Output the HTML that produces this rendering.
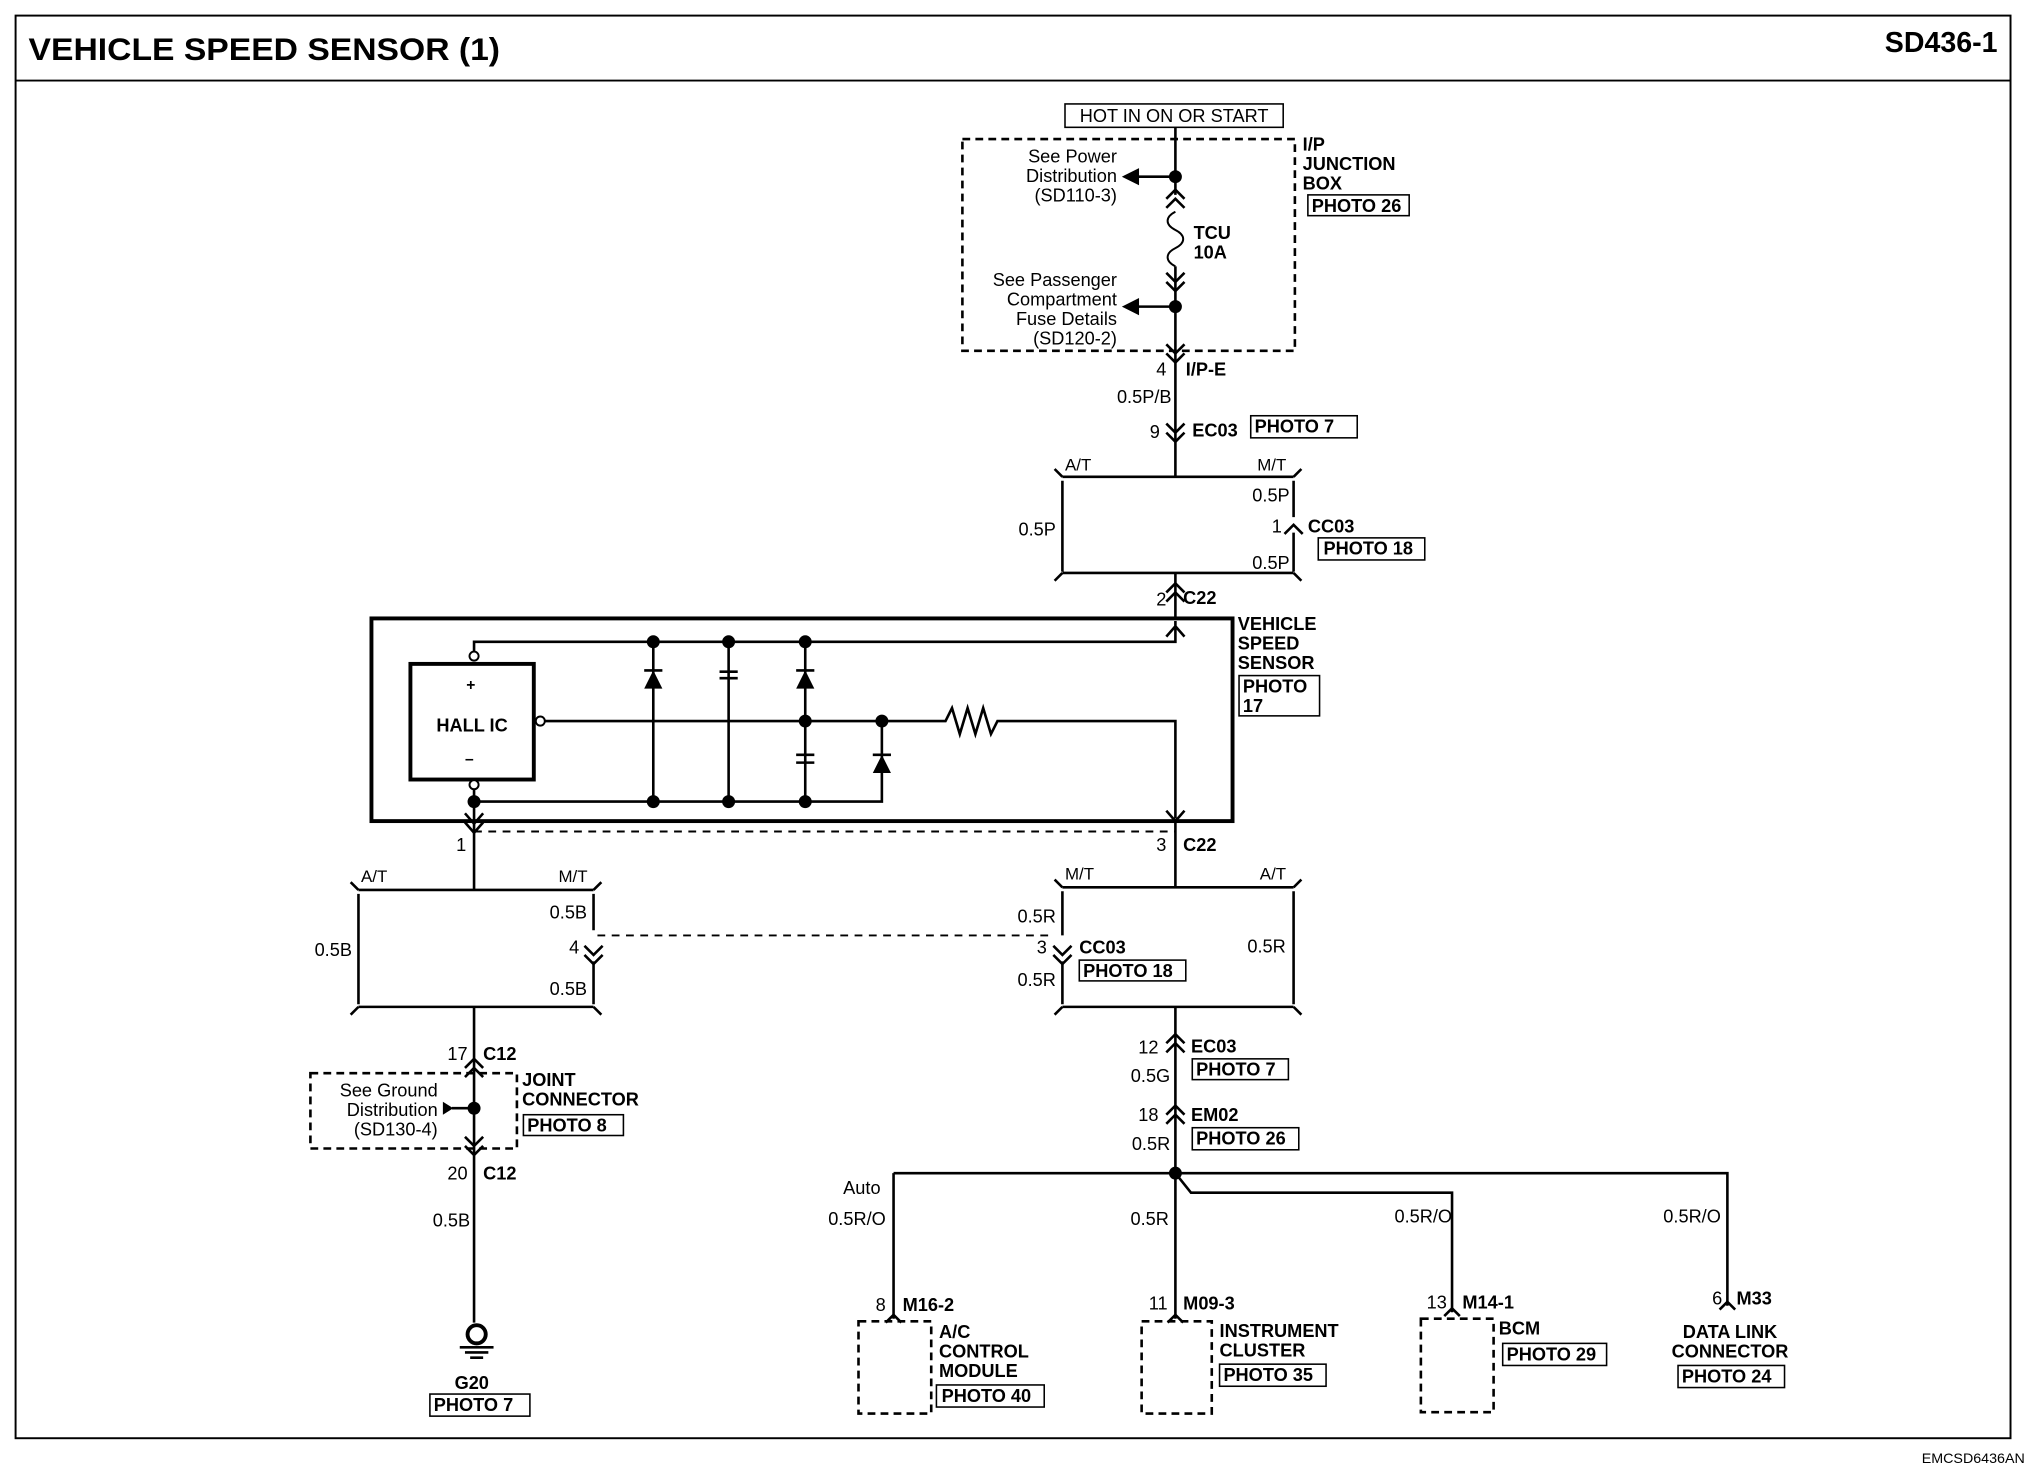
<!DOCTYPE html>
<html><head><meta charset="utf-8"><style>
html,body{margin:0;padding:0;background:#fff}
svg{display:block}
text{font-family:"Liberation Sans",Arial,sans-serif;fill:#000}
.b{font-weight:bold}
</style></head><body>
<svg width="2030" height="1472" viewBox="0 0 1563 1133" preserveAspectRatio="none" xmlns="http://www.w3.org/2000/svg">
<g fill="none" stroke="#000" stroke-width="2">
<rect x="12" y="12" width="1536" height="1095" stroke-width="1.5"/>
<line x1="12" y1="62" x2="1548" y2="62" stroke-width="1.5"/>
<rect x="820" y="80" width="168" height="18" stroke-width="1.2"/>
<rect x="741" y="107" width="256" height="163" stroke-dasharray="6,4"/>
<path d="M905 98V150M905 205V367"/>
<path d="M898 160l7-7 7 7M898 153l7-7 7 7"/>
<path d="M905 163c-8 4-8 10 0 14c8 4 8 10 0 14c-8 4-8 10 0 14" stroke-width="1.5"/>
<path d="M898 210l7 7 7-7M898 217l7 7 7-7"/>
<path d="M898 265l7 7 7-7M898 272l7 7 7-7"/>
<path d="M898 326l7 7 7-7M898 333l7 7 7-7"/>
<path d="M905 136H873M905 236H873"/>
<path d="M866 136l10-5v10z M866 236l10-5v10z" fill="#000"/>
<path d="M818 367H996M818 370V440M996 370V398M996 410V440M818 441H996M905 441V476"/>
<path d="M812 361l6 6M1002 361l-6 6M812 447l6-6M1002 447l-6-6"/>
<path d="M989 411l7-7 7 7"/>
<path d="M898 456l7-7 7 7M898 463l7-7 7 7"/>
<rect x="286" y="476" width="663" height="156" stroke-width="3"/>
<rect x="316" y="511" width="95" height="89" stroke-width="3"/>
<path d="M365 504V494H905V478M898 490l7-8 7 8"/>
<path d="M416 555H728l5-10 6 20 6-20 6 20 6-20 6 20 5-10H905V630M898 624l7 8 7-8"/>
<path d="M365 605V632M358 626l7 8 7-8M358 633l7 8 7-8"/>
<path d="M365 617H679V555M503 494V617M561 494V617M620 494V617"/>
<path d="M554 517h14M554 522h14M613 581h14M613 587h14"/>
<line x1="365" y1="640" x2="905" y2="640" stroke-dasharray="6,5" stroke-width="1.5"/>
<path d="M365 632V685M276 685H457M276 688V773M457 688V716M457 740V773M276 775H457M365 775V1018"/>
<path d="M270 679l6 6M463 679l-6 6M270 781l6-6M463 781l-6-6"/>
<path d="M450 728l7 7 7-7M450 735l7 7 7-7"/>
<path d="M358 829l7-7 7 7M358 822l7-7 7 7M358 875l7 7 7-7M358 882l7 7 7-7"/>
<rect x="239" y="826" width="159" height="58" stroke-dasharray="6,4"/>
<path d="M365 853H348"/>
<line x1="460" y1="720" x2="810" y2="720" stroke-dasharray="6,5" stroke-width="1.5"/>
<circle cx="367" cy="1027" r="7" stroke-width="3"/>
<path d="M354 1037h26M358 1041h18M362 1045h10"/>
<path d="M905 632V683M818 683H996M818 686V720M818 740V773M996 686V773M818 775H996M905 775V903"/>
<path d="M812 677l6 6M1002 677l-6 6M812 781l6-6M1002 781l-6-6"/>
<path d="M811 728l7 7 7-7M811 735l7 7 7-7"/>
<path d="M898 810l7-7 7 7M898 803l7-7 7 7M898 865l7-7 7 7M898 858l7-7 7 7"/>
<path d="M688 903H1330V1005M688 903V1015M905 903V1015M905 903l12 15H1118V1010"/>
<path d="M682 1018l6-6 6 6M899 1018l6-6 6 6M1112 1013l6-6 6 6M1324 1008l6-6 6 6"/>
<rect x="661" y="1017" width="56" height="71" stroke-dasharray="6,4"/>
<rect x="879" y="1017" width="54" height="71" stroke-dasharray="6,4"/>
<rect x="1094" y="1015" width="56" height="72" stroke-dasharray="6,4"/>
<g stroke-width="1.2">
<rect x="1007" y="150" width="78" height="16"/>
<rect x="963" y="320" width="82" height="17"/>
<rect x="1015" y="414" width="82" height="17"/>
<rect x="954" y="520" width="62" height="31"/>
<rect x="403" y="858" width="77" height="16"/>
<rect x="831" y="739" width="82" height="16"/>
<rect x="918" y="815" width="74" height="16"/>
<rect x="918" y="868" width="82" height="17"/>
<rect x="331" y="1073" width="77" height="17"/>
<rect x="721" y="1066" width="83" height="17"/>
<rect x="939" y="1050" width="82" height="17"/>
<rect x="1157" y="1034" width="80" height="17"/>
<rect x="1292" y="1051" width="82" height="17"/>
</g>
</g>
<g fill="#000">
<circle cx="905" cy="136" r="5"/><circle cx="905" cy="236" r="5"/>
<circle cx="503" cy="494" r="5"/><circle cx="561" cy="494" r="5"/><circle cx="620" cy="494" r="5"/>
<circle cx="620" cy="555" r="5"/><circle cx="679" cy="555" r="5"/>
<circle cx="365" cy="617" r="5"/><circle cx="503" cy="617" r="5"/><circle cx="561" cy="617" r="5"/><circle cx="620" cy="617" r="5"/>
<circle cx="365" cy="853" r="5"/><circle cx="905" cy="903" r="5"/>
<path d="M496 530h14l-7-14z M613 530h14l-7-14z M672 595h14l-7-14z M341 848l8 5-8 5z"/>
<path d="M496 516h14M613 516h14M672 581h14" stroke="#000" stroke-width="2"/>
</g>
<g fill="#fff" stroke="#000" stroke-width="1.5">
<circle cx="365" cy="505" r="3.5"/><circle cx="365" cy="604" r="3.5"/><circle cx="416" cy="555" r="3.5"/>
</g>
<g font-size="14">
<text x="22" y="46" font-size="24" class="b" textLength="363" lengthAdjust="spacingAndGlyphs">VEHICLE SPEED SENSOR (1)</text>
<text x="1538" y="40" font-size="22" class="b" text-anchor="end">SD436-1</text>
<text x="1559" y="1126" font-size="11" text-anchor="end">EMCSD6436AN</text>
<text x="904" y="94" text-anchor="middle">HOT IN ON OR START</text>
<g text-anchor="end"><text x="860" y="125">See Power</text><text x="860" y="140">Distribution</text><text x="860" y="155">(SD110-3)</text>
<text x="860" y="220">See Passenger</text><text x="860" y="235">Compartment</text><text x="860" y="250">Fuse Details</text><text x="860" y="265">(SD120-2)</text>
<text x="898" y="289">4</text><text x="902" y="310">0.5P/B</text><text x="893" y="337">9</text>
<text x="993" y="386">0.5P</text><text x="813" y="412">0.5P</text><text x="987" y="410">1</text><text x="993" y="438">0.5P</text>
<text x="898" y="466">2</text><text x="898" y="655">3</text><text x="359" y="655">1</text>
<text x="271" y="736">0.5B</text><text x="452" y="707">0.5B</text><text x="446" y="734">4</text><text x="452" y="766">0.5B</text>
<text x="813" y="710">0.5R</text><text x="806" y="734">3</text><text x="813" y="759">0.5R</text><text x="990" y="733">0.5R</text>
<text x="360" y="816">17</text><text x="337" y="844">See Ground</text><text x="337" y="859">Distribution</text><text x="337" y="874">(SD130-4)</text>
<text x="360" y="908">20</text><text x="362" y="944">0.5B</text>
<text x="892" y="811">12</text><text x="901" y="833">0.5G</text><text x="892" y="863">18</text><text x="901" y="885">0.5R</text>
<text x="678" y="919">Auto</text><text x="682" y="943">0.5R/O</text><text x="900" y="943">0.5R</text><text x="1118" y="941">0.5R/O</text><text x="1325" y="941">0.5R/O</text>
<text x="682" y="1009">8</text><text x="899" y="1008">11</text><text x="1114" y="1007">13</text><text x="1326" y="1004">6</text>
</g>
<text x="919" y="184" class="b">TCU</text><text x="919" y="199" class="b">10A</text>
<g class="b">
<text x="1003" y="116">I/P</text><text x="1003" y="131">JUNCTION</text><text x="1003" y="146">BOX</text><text x="1010" y="163">PHOTO 26</text>
<text x="913" y="289">I/P-E</text><text x="918" y="336">EC03</text><text x="966" y="333">PHOTO 7</text>
<text x="1007" y="410">CC03</text><text x="1019" y="427">PHOTO 18</text><text x="911" y="465">C22</text>
<text x="953" y="485">VEHICLE</text><text x="953" y="500">SPEED</text><text x="953" y="515">SENSOR</text><text x="957" y="533">PHOTO</text><text x="957" y="548">17</text>
<text x="336" y="563">HALL IC</text><text x="359" y="531" font-size="12">+</text><text x="358" y="588" font-size="12">–</text>
<text x="911" y="655">C22</text><text x="372" y="816">C12</text><text x="402" y="836">JOINT</text><text x="402" y="851">CONNECTOR</text><text x="406" y="871">PHOTO 8</text>
<text x="372" y="908">C12</text><text x="350" y="1069">G20</text><text x="334" y="1086">PHOTO 7</text>
<text x="831" y="734">CC03</text><text x="834" y="752">PHOTO 18</text>
<text x="917" y="810">EC03</text><text x="921" y="828">PHOTO 7</text><text x="917" y="863">EM02</text><text x="921" y="881">PHOTO 26</text>
<text x="695" y="1009">M16-2</text><text x="911" y="1008">M09-3</text><text x="1126" y="1007">M14-1</text><text x="1337" y="1004">M33</text>
<text x="723" y="1030">A/C</text><text x="723" y="1045">CONTROL</text><text x="723" y="1060">MODULE</text><text x="725" y="1079">PHOTO 40</text>
<text x="939" y="1029">INSTRUMENT</text><text x="939" y="1044">CLUSTER</text><text x="942" y="1063">PHOTO 35</text>
<text x="1154" y="1027">BCM</text><text x="1160" y="1047">PHOTO 29</text>
<text x="1332" y="1030" text-anchor="middle">DATA LINK</text><text x="1332" y="1045" text-anchor="middle">CONNECTOR</text><text x="1295" y="1064">PHOTO 24</text>
</g>
<g font-size="13"><text x="820" y="362">A/T</text><text x="968" y="362">M/T</text>
<text x="278" y="679">A/T</text><text x="430" y="679">M/T</text><text x="820" y="677">M/T</text><text x="970" y="677">A/T</text></g>
</svg>
</body></html>
